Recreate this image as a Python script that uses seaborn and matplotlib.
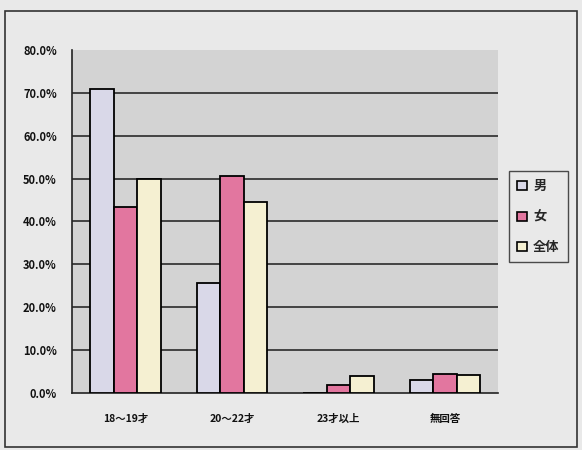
import matplotlib
matplotlib.use("Agg")
import matplotlib.pyplot as plt
import seaborn as sns
import pandas as pd
from matplotlib.patches import Rectangle
from matplotlib.ticker import FuncFormatter, FixedLocator

categories = ["18～19才", "20～22才", "23才以上", "無回答"]
series = ["男", "女", "全体"]
male = [71.0, 25.6, 0.0, 3.0]
female = [43.3, 50.7, 1.8, 4.5]
total = [49.9, 44.6, 4.0, 4.2]
colors = ["#d9d8e8", "#e2769f", "#f5f0d2"]
yticks = [0, 10, 20, 30, 40, 50, 60, 70, 80]

rows = []
for name, vals in zip(series, [male, female, total]):
    for c, v in zip(categories, vals):
        rows.append({"cat": c, "series": name, "value": v})
df = pd.DataFrame(rows)

sns.set_theme(style="white")
plt.rcParams["font.family"] = ["Noto Sans CJK JP", "DejaVu Sans"]

fig = plt.figure(figsize=(5.82, 4.5), dpi=100, facecolor="#e9e9e9")
ax = fig.add_axes([0.124, 0.127, 0.732, 0.762])
ax.set_facecolor("#d3d3d3")

sns.barplot(data=df, x="cat", y="value", hue="series", order=categories,
            hue_order=series, palette=colors, width=0.66, gap=0,
            edgecolor="black", linewidth=1.3, saturation=1, ax=ax,
            legend=False, zorder=3)

ax.set_ylim(0, 80)
ax.set_xlim(-0.5, 3.5)
ax.set_yticks(yticks)
ax.yaxis.set_major_formatter(FuncFormatter(lambda v, p: f"{v:.1f}%"))
ax.yaxis.grid(True, color="#2a2a2a", linewidth=1.2, zorder=0)
ax.set_axisbelow(True)
gl = ax.get_ygridlines()
gl[0].set_visible(False)
gl[-1].set_visible(False)
ax.set_xlabel("")
ax.set_ylabel("")
for s in ["top", "right"]:
    ax.spines[s].set_visible(False)
for s in ["left", "bottom"]:
    ax.spines[s].set_color("#222222")
    ax.spines[s].set_linewidth(1.2)

ax.tick_params(axis="y", which="major", direction="out", length=5, width=1.1,
               color="#222222", labelsize=8, pad=6)
ax.tick_params(axis="x", which="major", length=0, labelsize=7.5, pad=15)
ax.xaxis.set_minor_locator(FixedLocator([0.5, 1.5, 2.5]))
ax.tick_params(axis="x", which="minor", direction="in", length=3, width=1.1,
               color="#222222")
for lab in ax.get_yticklabels() + ax.get_xticklabels():
    lab.set_fontweight("bold")
    lab.set_color("#111111")

handles = [Rectangle((0, 0), 1, 1, facecolor=c, edgecolor="black", linewidth=1.2)
           for c in colors]
leg = fig.legend(handles, series, loc="center left",
                 bbox_to_anchor=(0.864, 0.518), frameon=True,
                 handlelength=0.7, handleheight=0.7, handletextpad=0.5,
                 labelspacing=1.25, borderpad=0.6,
                 prop={"weight": "bold", "size": 9.5})
leg.get_frame().set_facecolor("#e9e9e9")
leg.get_frame().set_edgecolor("#222222")
leg.get_frame().set_linewidth(1.0)
leg.get_frame().set_boxstyle("square", pad=0)

fig.patches.append(Rectangle((0.008, 0.006), 0.984, 0.97, transform=fig.transFigure,
                             fill=False, edgecolor="#333333", linewidth=1.2))

fig.savefig("out.png", dpi=100, facecolor=fig.get_facecolor())
